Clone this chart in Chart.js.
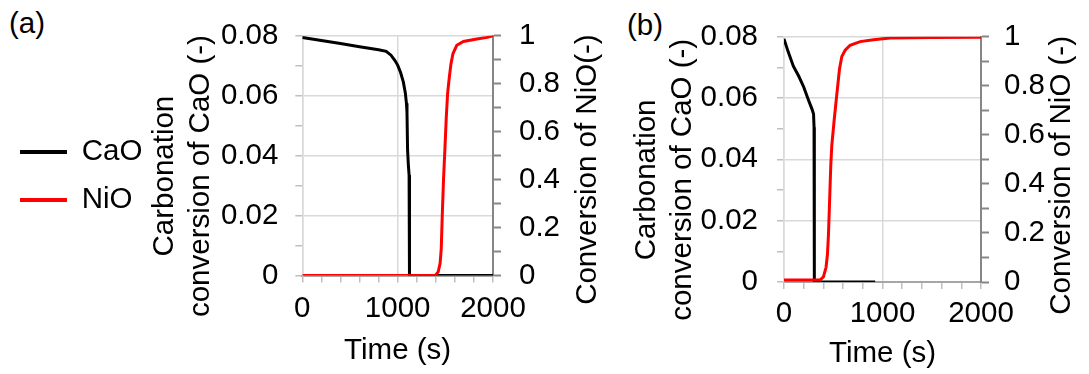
<!DOCTYPE html>
<html lang="en">
<head>
<meta charset="UTF-8" />
<title>CaO carbonation and NiO conversion</title>
<script src="https://cdn.jsdelivr.net/npm/chart.js"></script>
<style>
  body { margin: 0; width: 1089px; height: 374px; background: #fff; position: relative; overflow: hidden;
         font-family: "Liberation Sans", Arial, sans-serif; }
  canvas { position: absolute; top: 0; }
  #chartA { left: 0; }
  #chartB { left: 600px; }
  .panel { position: absolute; font-size: 29.5px; line-height: 29.5px; color: #000; }
</style>
</head>
<body>
  <div class="panel" style="left:9px; top:8px">(a)</div>
  <div class="panel" style="left:627px; top:10px">(b)</div>
  <canvas id="chartA" width="610" height="374"></canvas>
  <canvas id="chartB" width="489" height="374"></canvas>

<script>
  // panel (a)
  const timeA_CaO = [0, 200, 400, 600, 800, 880, 930, 970, 1000, 1030, 1060, 1080, 1092, 1098, 1104, 1112, 1120, 1124, 1500, 2000];
  const caoA      = [0.0794, 0.0784, 0.0774, 0.0763, 0.0753, 0.0748, 0.0735, 0.0718, 0.0702, 0.0678, 0.0645, 0.0610, 0.0575, 0.0545, 0.0420, 0.0370, 0.0335, 0, 0, 0];
  const timeA_NiO = [0, 1000, 1395, 1425, 1445, 1457, 1467, 1481, 1496, 1510, 1524, 1540, 1558, 1580, 1620, 1690, 1830, 1940, 2000];
  const nioA      = [0, 0, 0, 0.015, 0.05, 0.11, 0.24, 0.40, 0.53, 0.66, 0.76, 0.82, 0.88, 0.925, 0.96, 0.976, 0.986, 0.993, 1.0];

  // panel (b)
  const timeB_CaO = [0, 40, 95, 150, 200, 250, 285, 300, 305, 308, 500, 925];
  const caoB      = [0.0793, 0.0753, 0.0704, 0.0671, 0.0636, 0.0592, 0.0563, 0.0548, 0.0505, 0, 0, 0];
  const timeB_NiO = [0, 200, 366, 400, 427, 441, 451, 461, 475, 485, 509, 529, 546, 563, 587, 621, 671, 773, 909, 1078, 1500, 2000];
  const nioB      = [0.008, 0.008, 0.008, 0.021, 0.06, 0.112, 0.19, 0.307, 0.477, 0.555, 0.659, 0.737, 0.802, 0.867, 0.919, 0.945, 0.965, 0.980, 0.988, 0.995, 0.997, 0.998];

  const timeTicks = [0, 1000, 2000];

  const FAMILY = "'Liberation Sans', Arial, sans-serif";
  const SIZE = 29.5;
  Chart.defaults.font.family = FAMILY;
  Chart.defaults.font.size = SIZE;
  Chart.defaults.color = '#000';

  const GRID = '#d9d9d9';
  const pts = (t, v) => t.map((x, i) => ({ x, y: v[i] }));

  // right-hand axis title, read bottom to top like the left one
  const sideTitle = {
    id: 'sideTitle',
    afterDraw(chart, args, opts) {
      const s = chart.scales.y1;
      const area = chart.chartArea;
      const ctx = chart.ctx;
      ctx.save();
      ctx.translate(s.right - opts.inset, (area.top + area.bottom) / 2 + opts.shift);
      ctx.rotate(-Math.PI / 2);
      ctx.font = SIZE + 'px ' + FAMILY;
      ctx.fillStyle = '#000';
      ctx.textAlign = 'center';
      ctx.textBaseline = 'middle';
      ctx.fillText(opts.text, 0, 0);
      ctx.restore();
    }
  };

  function series(label, t, v, color, axis, order) {
    return {
      label, data: pts(t, v), yAxisID: axis, order,
      borderColor: color, backgroundColor: color,
      showLine: true, borderWidth: 3, pointRadius: 0, tension: 0
    };
  }

  function timeAxis(height, labelPad, titlePad) {
    return {
      type: 'linear', min: 0, max: 2000,
      afterFit: s => { s.height = height; },
      ticks: { stepSize: 200, autoSkip: false, maxRotation: 0, padding: labelPad,
               callback: v => timeTicks.includes(v) ? String(v) : '' },
      grid: { color: c => c.tick && timeTicks.includes(c.tick.value) ? GRID : 'transparent',
              lineWidth: 1.5, tickColor: '#bfbfbf', tickWidth: 1.5, tickLength: 7 },
      border: { color: '#a6a6a6', width: 2 },
      title: { display: true, text: 'Time (s)', padding: { top: 0, bottom: titlePad } }
    };
  }

  function caoAxis(widthFn, labelPad, titlePad) {
    return {
      position: 'left', min: 0, max: 0.08,
      afterFit: s => { s.width = widthFn(s); },
      ticks: { stepSize: 0.01, autoSkip: false, padding: labelPad,
               callback: v => Math.round(v * 100) % 2 === 0 ? String(+v.toFixed(2)) : '' },
      grid: { color: c => c.tick && Math.round(c.tick.value * 100) % 2 === 0 ? GRID : 'transparent',
              lineWidth: 1.5, tickColor: '#bfbfbf', tickWidth: 1.5, tickLength: 7 },
      border: { color: GRID, width: 1.5 },
      title: { display: true, text: ['Carbonation     ', 'conversion of CaO (-)     '],
               padding: { top: titlePad, bottom: 0 }, font: { lineHeight: 1.22 } }
    };
  }

  function nioAxis(width, labelPad) {
    return {
      position: 'right', min: 0, max: 1,
      afterFit: s => { s.width = width; },
      ticks: { stepSize: 0.1, autoSkip: false, padding: labelPad,
               callback: v => Math.round(v * 10) % 2 === 0 ? String(+v.toFixed(1)) : '' },
      grid: { drawOnChartArea: false, tickColor: '#868686', tickWidth: 2, tickLength: 8 },
      border: { color: '#868686', width: 2 },
      title: { display: false }
    };
  }

  const padLeftA = 1.5;

  new Chart(document.getElementById('chartA'), {
    type: 'scatter',
    data: { datasets: [
      series('CaO', timeA_CaO, caoA, '#000000', 'y', 1),
      series('NiO', timeA_NiO, nioA, '#ff0000', 'y1', 0)
    ] },
    options: {
      responsive: false, animation: false, devicePixelRatio: 1,
      layout: { padding: { left: padLeftA, top: 21.5, right: 0, bottom: 43.5 } },
      plugins: {
        tooltip: { enabled: false },
        sideTitle: { text: 'Conversion of NiO(-)', inset: 22, shift: 14 },
        legend: {
          position: 'left', align: 'center', maxWidth: 220,
          labels: {
            boxWidth: 47, boxHeight: 4, padding: 18.5, color: '#000', font: { size: SIZE },
            sort: (a, b) => a.datasetIndex - b.datasetIndex,
            generateLabels: chart => Chart.defaults.plugins.legend.labels.generateLabels(chart)
              .map(l => ({ ...l, lineWidth: 0, fillStyle: l.strokeStyle }))
          }
        }
      },
      scales: {
        x: timeAxis(55, 8.6, -38.2),
        y: caoAxis(s => 302.3 - padLeftA - (s.chart.legend ? s.chart.legend.width : 150), 17, -5.4),
        y1: nioAxis(117, 18)
      }
    },
    plugins: [sideTitle]
  });

  new Chart(document.getElementById('chartB'), {
    type: 'scatter',
    data: { datasets: [
      series('CaO', timeB_CaO, caoB, '#000000', 'y', 1),
      series('NiO', timeB_NiO, nioB, '#ff0000', 'y1', 0)
    ] },
    options: {
      responsive: false, animation: false, devicePixelRatio: 1,
      layout: { padding: { left: 0, top: 26, right: 0, bottom: 0 } },
      plugins: {
        tooltip: { enabled: false },
        legend: { display: false },
        sideTitle: { text: 'Conversion of NiO (-)', inset: 27.3, shift: 16 }
      },
      scales: {
        x: timeAxis(92, 7.3, 2.3),
        y: caoAxis(() => 184, 19, 28.7),
        y1: nioAxis(108, 15)
      }
    },
    plugins: [sideTitle]
  });
</script>
</body>
</html>
